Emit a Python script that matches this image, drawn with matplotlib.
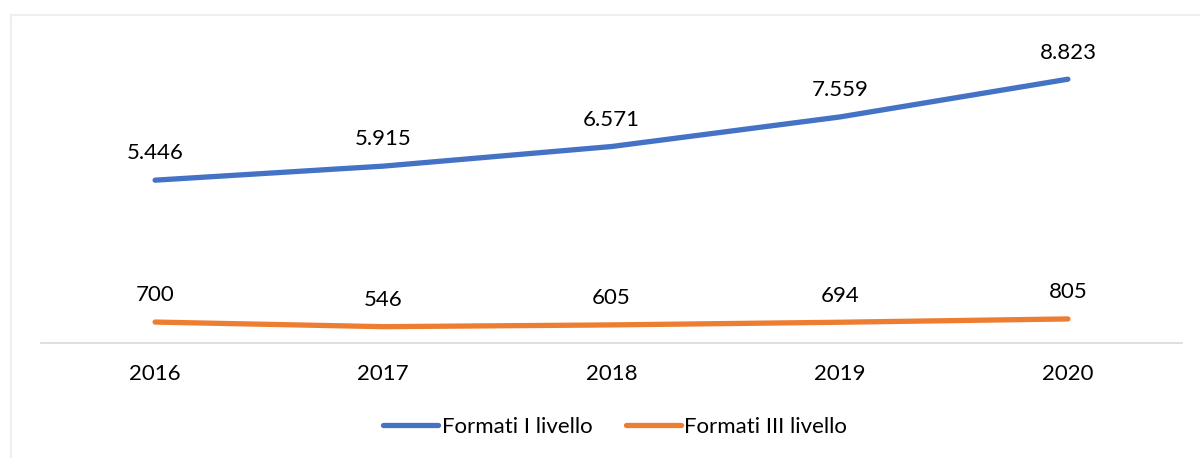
import matplotlib
matplotlib.use("Agg")
import matplotlib.pyplot as plt
from matplotlib.lines import Line2D

years = ["2016", "2017", "2018", "2019", "2020"]
livello1 = [5446, 5915, 6571, 7559, 8823]
livello3 = [700, 546, 605, 694, 805]
labels1 = ["5.446", "5.915", "6.571", "7.559", "8.823"]
labels3 = ["700", "546", "605", "694", "805"]

plt.rcParams['font.family'] = ['Lato', 'DejaVu Sans']

fig = plt.figure(figsize=(12, 4.58), dpi=100)
# light frame: top and left edges only (rest is cropped in the reference)
fig.add_artist(Line2D([11/1200, 1.0], [1 - 15/458, 1 - 15/458], transform=fig.transFigure,
                      color='#eeeeee', linewidth=1.5))
fig.add_artist(Line2D([11/1200, 11/1200], [0, 1 - 15/458], transform=fig.transFigure,
                      color='#eeeeee', linewidth=1.5))
ax = fig.add_axes([41/1200, 1 - 343/458, (1182 - 41)/1200, (343 - 44)/458])

x = list(range(len(years)))
blue = '#4472c4'
orange = '#ed7d31'
ax.plot(x, livello1, color=blue, linewidth=3.8, solid_capstyle='round')
ax.plot(x, livello3, color=orange, linewidth=3.8, solid_capstyle='round')

for xi, v, t in zip(x, livello1, labels1):
    ax.annotate(t, (xi, v), xytext=(0, 12), textcoords='offset points',
                ha='center', va='bottom', fontsize=16, color='#000000')
for xi, v, t in zip(x, livello3, labels3):
    ax.annotate(t, (xi, v), xytext=(0, 12), textcoords='offset points',
                ha='center', va='bottom', fontsize=16, color='#000000')

ax.set_xlim(-0.5, len(years) - 0.5)
ax.set_ylim(0, 10000)
ax.set_xticks(x)
ax.set_xticklabels(years, fontsize=16)
ax.set_yticks([])
ax.tick_params(axis='x', length=0, pad=15)
for s in ['top', 'right', 'left']:
    ax.spines[s].set_visible(False)
ax.spines['bottom'].set_color('#d9d9d9')
ax.spines['bottom'].set_linewidth(1.2)

handles = [Line2D([], [], color=blue, linewidth=3.8, solid_capstyle='round'),
           Line2D([], [], color=orange, linewidth=3.8, solid_capstyle='round')]
fig.legend(handles, ["Formati I livello", "Formati III livello"], loc='center',
           bbox_to_anchor=(615/1200, 1 - 427/458), ncol=2, frameon=False, fontsize=16,
           handlelength=2.5, handletextpad=0.15, columnspacing=1.5)

fig.savefig("out.png", dpi=100)
